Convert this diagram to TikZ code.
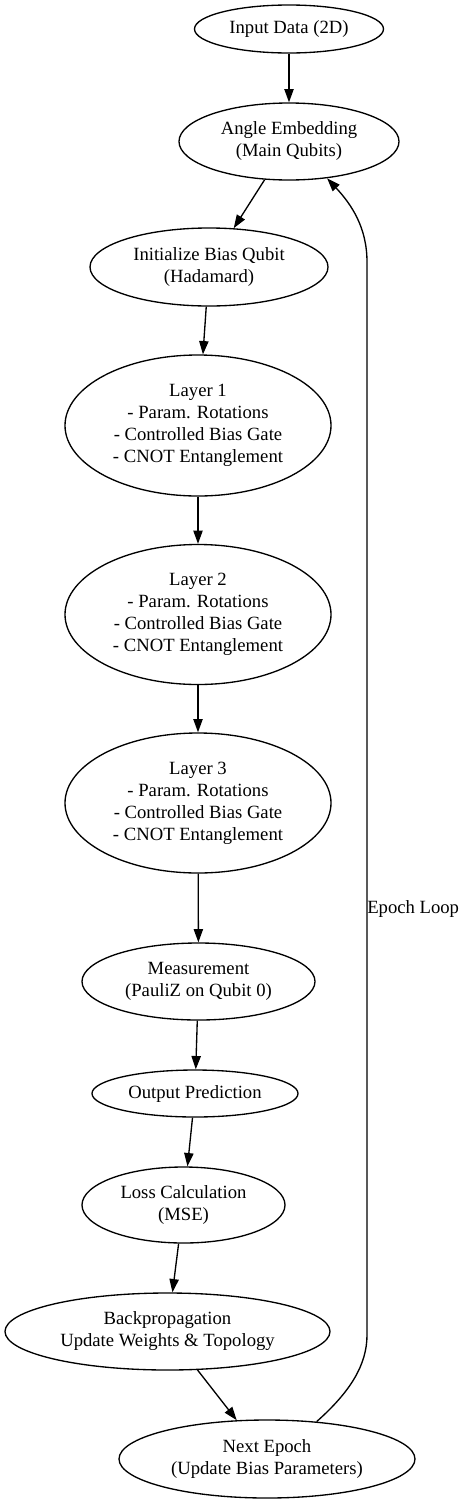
\documentclass[tikz,border=0pt]{standalone}
\usepackage{fontspec}
\setmainfont{Liberation Serif}
\usetikzlibrary{shapes,arrows.meta}
\usetikzlibrary{positioning}

\tikzset{
    oval/.style 2 args={ellipse, draw, line width=1pt, align=center, inner sep=0pt,
        minimum width=#1*0.75pt, minimum height=#2*0.75pt, font=\fontsize{14}{16.5}\selectfont},
    flow/.style={line width=1pt, -{Triangle[length=10pt,width=7pt]}}
}

\begin{document}
\begin{tikzpicture}[x=0.75pt, y=-0.75pt]

    \useasboundingbox (0,0) rectangle (462,1503);

    \node[oval={189}{48}] (input) at (289,29) {Input Data (2D)};
    \node[oval={220}{77}] (embed) at (289,141.5) {Angle Embedding\\(Main Qubits)};
    \node[oval={238}{78}] (biasq) at (209,267) {Initialize Bias Qubit\\(Hadamard)};
    \node[oval={266}{141}] (layer1) at (198,425.5) {Layer 1\\- Param. Rotations\\- Controlled Bias Gate\\- CNOT Entanglement};
    \node[oval={266}{140}] (layer2) at (198,614.5) {Layer 2\\- Param. Rotations\\- Controlled Bias Gate\\- CNOT Entanglement};
    \node[oval={266}{140}] (layer3) at (198,803) {Layer 3\\- Param. Rotations\\- Controlled Bias Gate\\- CNOT Entanglement};
    \node[oval={233}{77}] (measure) at (198.5,981.5) {Measurement\\(PauliZ on Qubit 0)};
    \node[oval={206}{47}] (output) at (195,1093.5) {Output Prediction};
    \node[oval={203}{76}] (loss) at (183.5,1205) {Loss Calculation\\(MSE)};
    \node[oval={325}{77}] (backprop) at (167.5,1331.5) {Backpropagation\\Update Weights \& Topology};
    \node[oval={296}{78}] (nextep) at (267,1459) {Next Epoch\\(Update Bias Parameters)};

    \draw[flow] (input) -- (embed);
    \draw[flow] (embed) -- (biasq);
    \draw[flow] (biasq) -- (layer1);
    \draw[flow] (layer1) -- (layer2);
    \draw[flow] (layer2) -- (layer3);
    \draw[flow] (layer3) -- (measure);
    \draw[flow] (measure) -- (output);
    \draw[flow] (output) -- (loss);
    \draw[flow] (loss) -- (backprop);
    \draw[flow] (backprop) -- (nextep);

    \coordinate (loopbot) at (367,1335);
    \coordinate (looptop) at (367,262);
    \draw[flow] (nextep.37) .. controls (350,1392) and (367,1365) .. (loopbot)
        -- (looptop) .. controls (367,228) and (352,205) .. (embed.-44);
    \node[anchor=west, inner sep=0pt, font=\fontsize{14}{16.5}\selectfont] (looplbl) at (367,909) {Epoch Loop};

\end{tikzpicture}
\end{document}
